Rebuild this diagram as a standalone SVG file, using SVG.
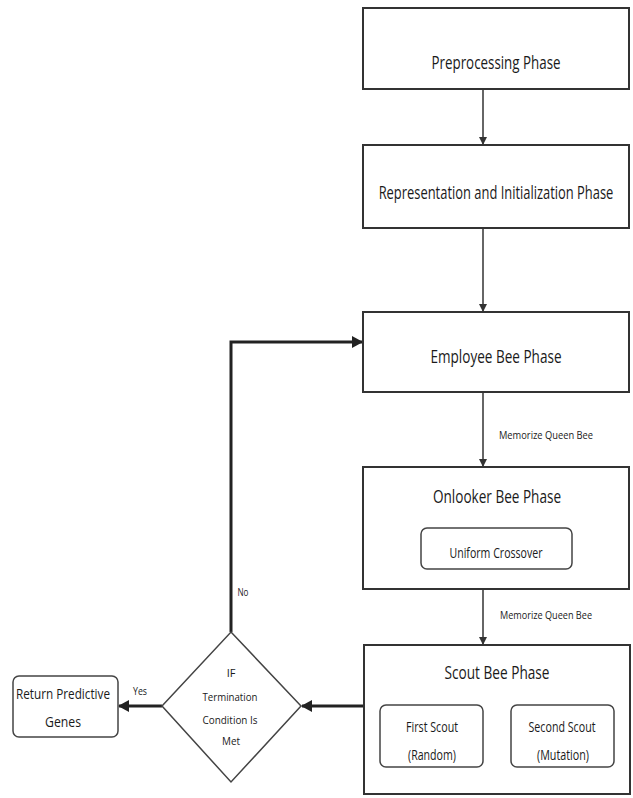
<svg xmlns="http://www.w3.org/2000/svg" width="633" height="798" viewBox="0 0 633 798">
<defs>
<style>
.box{fill:#fff;stroke:#333;stroke-width:2}
.rbox{fill:#fff;stroke:#444;stroke-width:1.5}
.t{font-family:"Open Sans","Liberation Sans",sans-serif;fill:#1a1a1a;text-anchor:middle}
.big{font-size:19px}
.mid{font-size:14px}
.sm{font-size:11px}
.ln{fill:none;stroke:#333;stroke-width:1.5}
.thk{fill:none;stroke:#222;stroke-width:3}
</style>
<marker id="ah" markerWidth="8" markerHeight="8" refX="7" refY="4" orient="auto" markerUnits="userSpaceOnUse">
<path d="M0,0 L8,4 L0,8 z" fill="#333"/>
</marker>
<marker id="ahb" markerWidth="12" markerHeight="12" refX="10" refY="6" orient="auto" markerUnits="userSpaceOnUse">
<path d="M0,0 L11,6 L0,12 z" fill="#222"/>
</marker>
</defs>
<g id="connectors">
<line class="ln" x1="483" y1="89" x2="483" y2="144" marker-end="url(#ah)"/>
<line class="ln" x1="483" y1="228" x2="483" y2="311" marker-end="url(#ah)"/>
<line class="ln" x1="483" y1="392" x2="483" y2="466" marker-end="url(#ah)"/>
<line class="ln" x1="483" y1="589" x2="483" y2="644" marker-end="url(#ah)"/>
<line class="thk" x1="363" y1="706" x2="302" y2="706" marker-end="url(#ahb)"/>
<line class="thk" x1="162" y1="706" x2="119" y2="706" marker-end="url(#ahb)"/>
<polyline class="thk" points="231,632 231,342 362,342" marker-end="url(#ahb)"/>
<text class="t sm" x="546" y="439" textLength="94" lengthAdjust="spacingAndGlyphs">Memorize Queen Bee</text>
<text class="t sm" x="546" y="619" textLength="92" lengthAdjust="spacingAndGlyphs">Memorize Queen Bee</text>
<text class="t sm" x="140" y="695" textLength="14" lengthAdjust="spacingAndGlyphs">Yes</text>
<text class="t sm" x="243" y="596" textLength="11" lengthAdjust="spacingAndGlyphs">No</text>
</g>
<g id="preprocessing">
<rect class="box" x="363" y="8" width="266" height="81"/>
<text class="t big" x="496" y="69" textLength="129" lengthAdjust="spacingAndGlyphs">Preprocessing Phase</text>
</g>
<g id="representation">
<rect class="box" x="363" y="145" width="266" height="83"/>
<text class="t big" transform="translate(496,199) scale(0.68,1)" x="0" y="0">Representation and Initialization Phase</text>
</g>
<g id="employee">
<rect class="box" x="363" y="312" width="266" height="80"/>
<text class="t big" x="496" y="363" textLength="131" lengthAdjust="spacingAndGlyphs">Employee Bee Phase</text>
</g>
<g id="onlooker">
<rect class="box" x="363" y="467" width="266" height="122"/>
<text class="t big" x="497" y="503" textLength="128" lengthAdjust="spacingAndGlyphs">Onlooker Bee Phase</text>
<rect class="rbox" x="421" y="528" width="151" height="41" rx="6"/>
<text class="t mid" x="496" y="558" textLength="93" lengthAdjust="spacingAndGlyphs">Uniform Crossover</text>
</g>
<g id="scout">
<rect class="box" x="364" y="645" width="266" height="149"/>
<text class="t big" x="497" y="679" textLength="105" lengthAdjust="spacingAndGlyphs">Scout Bee Phase</text>
<rect class="rbox" x="380" y="705" width="103" height="62" rx="6"/>
<text class="t mid" x="432" y="732" textLength="52" lengthAdjust="spacingAndGlyphs">First Scout</text>
<text class="t mid" x="432" y="760" textLength="48" lengthAdjust="spacingAndGlyphs">(Random)</text>
<rect class="rbox" x="511" y="705" width="103" height="62" rx="6"/>
<text class="t mid" x="562" y="732" textLength="67" lengthAdjust="spacingAndGlyphs">Second Scout</text>
<text class="t mid" x="563" y="760" textLength="52" lengthAdjust="spacingAndGlyphs">(Mutation)</text>
</g>
<g id="decision">
<polygon class="rbox" points="231,632 301,706 231,782 162,706"/>
<text class="t sm" x="231" y="677">IF</text>
<text class="t sm" x="230" y="701" textLength="55" lengthAdjust="spacingAndGlyphs">Termination</text>
<text class="t sm" x="230" y="724" textLength="55" lengthAdjust="spacingAndGlyphs">Condition Is</text>
<text class="t sm" x="231" y="745" textLength="18" lengthAdjust="spacingAndGlyphs">Met</text>
</g>
<g id="return">
<rect class="rbox" x="13" y="676" width="105" height="61" rx="6"/>
<text class="t mid" x="63" y="699" textLength="94" lengthAdjust="spacingAndGlyphs">Return Predictive</text>
<text class="t mid" x="63" y="727" textLength="36" lengthAdjust="spacingAndGlyphs">Genes</text>
</g>
</svg>
